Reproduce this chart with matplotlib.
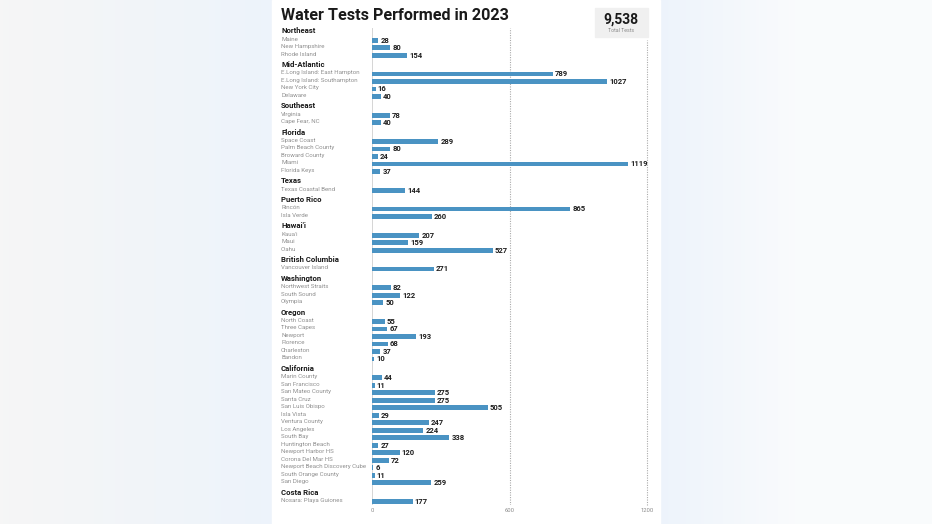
import numpy as np
import matplotlib.pyplot as plt
from matplotlib.patches import Rectangle
from matplotlib.transforms import blended_transform_factory

plt.rcParams['font.family'] = ['Roboto', 'DejaVu Sans']

# Data, one list per region
regions = ['Northeast', 'Mid-Atlantic', 'Southeast', 'Florida', 'Texas', 'Puerto Rico',
           "Hawai'i", 'British Columbia', 'Washington', 'Oregon', 'California', 'Costa Rica']
sites = [
    ['Maine', 'New Hampshire', 'Rhode Island'],
    ['E.Long Island: East Hampton', 'E.Long Island: Southampton', 'New York City', 'Delaware'],
    ['Virginia', 'Cape Fear, NC'],
    ['Space Coast', 'Palm Beach County', 'Broward County', 'Miami', 'Florida Keys'],
    ['Texas Coastal Bend'],
    ['Rincón', 'Isla Verde'],
    ["Kaua'i", 'Maui', "O'ahu"],
    ['Vancouver Island'],
    ['Northwest Straits', 'South Sound', 'Olympia'],
    ['North Coast', 'Three Capes', 'Newport', 'Florence', 'Charleston', 'Bandon'],
    ['Marin County', 'San Francisco', 'San Mateo County', 'Santa Cruz', 'San Luis Obispo',
     'Isla Vista', 'Ventura County', 'Los Angeles', 'South Bay', 'Huntington Beach',
     'Newport Harbor HS', 'Corona Del Mar HS', 'Newport Beach Discovery Cube',
     'South Orange County', 'San Diego'],
    ['Nosara: Playa Guiones'],
]
tests = [
    [28, 80, 154],
    [789, 1027, 16, 40],
    [78, 40],
    [289, 80, 24, 1119, 37],
    [144],
    [865, 260],
    [207, 159, 527],
    [271],
    [82, 122, 50],
    [55, 67, 193, 68, 37, 10],
    [44, 11, 275, 275, 505, 29, 247, 224, 338, 27, 120, 72, 6, 11, 259],
    [177],
]
total_tests = '9,538'
xticks = [0, 600, 1200]

W, H = 932, 524
fig = plt.figure(figsize=(W / 100, H / 100), dpi=100)

# soft page background with the white panel in the middle
bg = fig.add_axes([0, 0, 1, 1], zorder=-10)
xs = np.linspace(0, 1, 400)
left = np.array([0.965, 0.965, 0.965])
blue = np.array([0.93, 0.955, 0.985])
t = np.clip(xs / 0.29, 0, 1)[:, None]
row = left * (1 - t) + blue * t
right_part = xs > 0.708
tr = np.clip((xs - 0.708) / 0.15, 0, 1)[:, None]
row[right_part] = (blue * (1 - tr) + np.array([0.98, 0.985, 0.99]) * tr)[right_part]
bg.imshow(row[None, :, :], aspect='auto', extent=[0, 1, 0, 1])
bg.add_patch(Rectangle((272 / W, 0), (660 - 272) / W, 1, color='white'))
bg.set_xlim(0, 1)
bg.set_ylim(0, 1)
bg.axis('off')

# main axes: x=0 at 372px, x=1200 at 647px; y in row units (7.5px per row)
top_px, bot_px, row_px, first_px = 28, 505, 7.5, 39.5
ax = fig.add_axes([372 / W, 1 - bot_px / H, (647 - 372) / W, (bot_px - top_px) / H])
ax.set_xlim(0, 1200)
ax.set_ylim((bot_px - first_px) / row_px, (top_px - first_px) / row_px)
ax.patch.set_visible(False)
for s in ax.spines.values():
    s.set_visible(False)

bar_color = '#4a93c3'
lab_tr = blended_transform_factory(fig.transFigure, ax.transData)
label_x = 281 / W

pos = 0.0
for g, name in enumerate(regions):
    ax.text(label_x, pos - 1.15, name, transform=lab_tr, fontsize=5.6, fontweight='bold',
            color='#1a1a1a', va='center', ha='left')
    for site, val in zip(sites[g], tests[g]):
        ax.barh(pos + 0.1, val, height=0.62, color=bar_color, zorder=3)
        ax.annotate(str(val), (val, pos + 0.1), xytext=(1.5, 0), textcoords='offset points',
                    fontsize=5.5, fontweight='bold', color='#1e1e1e', va='center',
                    ha='left', annotation_clip=False, zorder=4)
        ax.text(label_x, pos - 0.05, site, transform=lab_tr, fontsize=4.4,
                color='#8f8f8f', va='center', ha='left')
        pos += 1
    pos += 1.5

# reference lines
ax.axvline(0, color='#d5d5d5', lw=0.7, zorder=2)
ax.axvline(600, color='#aaaaaa', lw=0.8, ls=(0, (1, 1.2)), zorder=1)
ax.axvline(1200, ymax=(bot_px - 40) / (bot_px - top_px), color='#aaaaaa', lw=0.8,
           ls=(0, (1, 1.2)), zorder=1, clip_on=False)

ax.set_yticks([])
ax.set_xticks(xticks)
ax.set_xticklabels([str(v) for v in xticks])
ax.tick_params(axis='x', length=0, labelsize=4.2, labelcolor='#8a8a8a', pad=2)

# title and the total box
fig.text(281 / W, 1 - 15 / H, 'Water Tests Performed in 2023', fontsize=11.6,
         fontweight='bold', color='#1a1a1a', va='center', ha='left')
fig.patches.append(Rectangle((595 / W, 1 - 37 / H), 53 / W, 29 / H, color='#f0f0f0',
                             transform=fig.transFigure, figure=fig))
fig.text(621 / W, 1 - 20 / H, total_tests, fontsize=10, fontweight='bold', color='#1a1a1a',
         va='center', ha='center')
fig.text(621 / W, 1 - 31 / H, 'Total Tests', fontsize=3.8, color='#8a8a8a',
         va='center', ha='center')

fig.savefig('out.png', dpi=100)
